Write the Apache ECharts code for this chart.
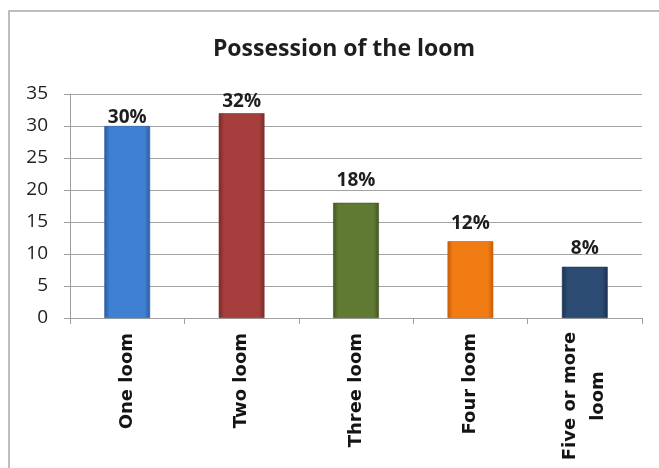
<!DOCTYPE html>
<html>
<head>
<meta charset="utf-8">
<script src="https://cdn.jsdelivr.net/npm/echarts@6/dist/echarts.min.js"></script>
<style>
  html, body { margin: 0; padding: 0; background: #ffffff; }
  #chart { width: 659px; height: 468px; }
</style>
</head>
<body>
<div id="chart"></div>
<script>
// Number of looms owned per household
const categories = ['One loom', 'Two loom', 'Three loom', 'Four loom', 'Five or more\nloom'];
const shares = [30, 32, 18, 12, 8];
const yTicks = [0, 5, 10, 15, 20, 25, 30, 35];

// Bar fills: [edge, centre]
const barColors = [
  ['#2a5c9f', '#3f80d2'],
  ['#7c2a29', '#a53e3c'],
  ['#43561f', '#617a33'],
  ['#c65c06', '#f27c14'],
  ['#1b3152', '#2c4b73']
];
// Extra gap between each bar top and its value label
const labelGap = [-1, 2, 13, 8, 9];

function barFill(c) {
  return new echarts.graphic.LinearGradient(0, 0, 1, 0, [
    { offset: 0, color: c[0] },
    { offset: 0.12, color: c[1] },
    { offset: 0.88, color: c[1] },
    { offset: 1, color: c[0] }
  ]);
}

const chart = echarts.init(document.getElementById('chart'), null, { renderer: 'canvas' });

chart.setOption({
  backgroundColor: '#ffffff',
  animation: false,
  graphic: [{
    type: 'rect',
    shape: { x: 9, y: 11, width: 700, height: 500 },
    style: { fill: 'none', stroke: '#a9a9a9', lineWidth: 1.5 },
    silent: true
  }],
  title: {
    text: 'Possession of the loom',
    left: 339,
    textAlign: 'center',
    top: 33,
    textStyle: { fontFamily: 'Open Sans', fontWeight: 'bold', fontSize: 23, color: '#1e1e1e' }
  },
  grid: { left: 70, right: 17, top: 94, bottom: 150, containLabel: false },
  xAxis: {
    type: 'category',
    data: categories,
    boundaryGap: true,
    axisLine: { show: true, lineStyle: { color: '#a0a0a0', width: 1 } },
    axisTick: { show: true, length: 6, lineStyle: { color: '#a0a0a0' } },
    axisLabel: {
      rotate: 90,
      margin: 15,
      interval: 0,
      color: '#141414',
      fontFamily: 'DejaVu Sans',
      fontWeight: 'bold',
      fontSize: 18,
      lineHeight: 28,
      formatter: function (v) {
        if (v.indexOf('\n') < 0) return v;
        return v.split('\n').map(function (s) { return '{w|' + s + '}'; }).join('\n');
      },
      rich: {
        w: { width: 126, align: 'center', fontFamily: 'DejaVu Sans', fontWeight: 'bold', fontSize: 18, lineHeight: 28, color: '#141414' }
      }
    }
  },
  yAxis: {
    type: 'value',
    min: yTicks[0],
    max: yTicks[yTicks.length - 1],
    interval: yTicks[1] - yTicks[0],
    axisLine: { show: true, lineStyle: { color: '#a0a0a0', width: 1 } },
    axisTick: { show: true, length: 6, lineStyle: { color: '#a0a0a0' } },
    axisLabel: { margin: 22, color: '#222222', fontFamily: 'Open Sans', fontSize: 19 },
    splitLine: { show: true, lineStyle: { color: '#a3a3a3', width: 1 } }
  },
  series: [{
    type: 'bar',
    barWidth: '40%',
    data: shares.map(function (v, i) {
      return {
        value: v,
        itemStyle: { color: barFill(barColors[i]), borderColor: barColors[i][0], borderWidth: 0.6 },
        label: { distance: labelGap[i] }
      };
    }),
    label: {
      show: true,
      position: 'top',
      formatter: '{c}%',
      fontFamily: 'Open Sans',
      fontWeight: 'bold',
      fontSize: 19,
      color: '#1e1e1e'
    }
  }]
});
</script>
</body>
</html>
